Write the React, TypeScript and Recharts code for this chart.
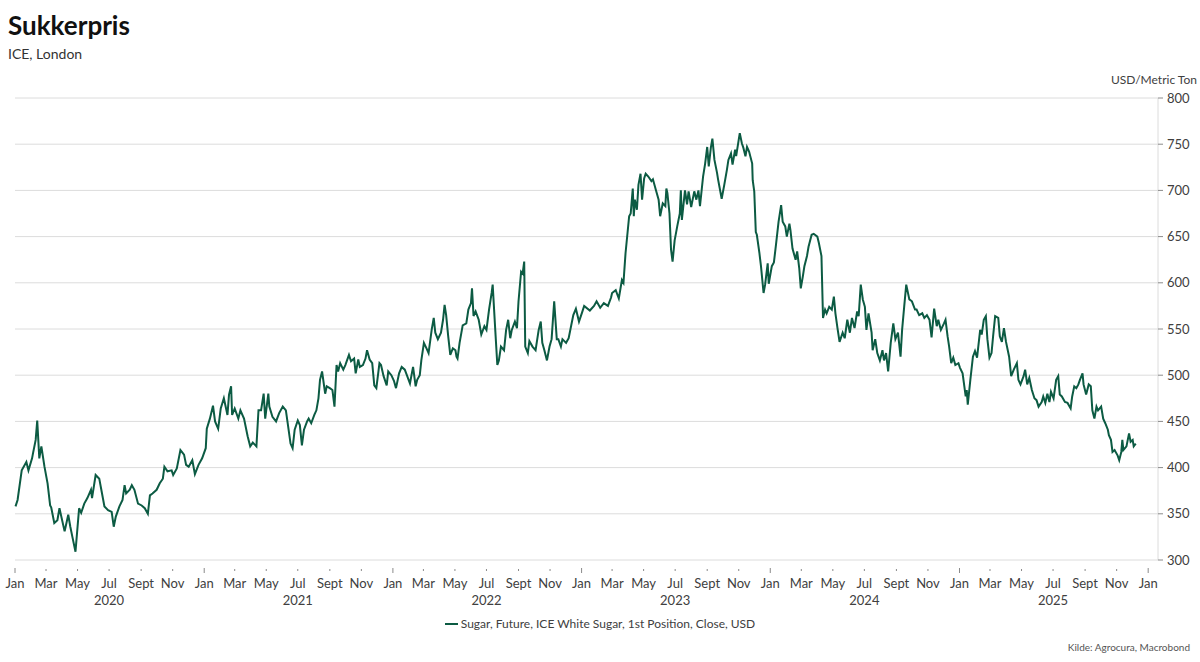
import { CartesianGrid, Line, LineChart, XAxis, YAxis } from "recharts";

const GREEN = "#0c5b43";
const AXIS_TEXT = "#404040";
const FONT = "Lato, 'Open Sans', sans-serif";

const YEARS = [2020, 2021, 2022, 2023, 2024, 2025];
const MONTH_TICKS = [0, 2, 4, 6, 8, 10];
const MONTH_LABELS = ["Jan", "Mar", "May", "Jul", "Sept", "Nov"];
const Y_TICKS = [300, 350, 400, 450, 500, 550, 600, 650, 700, 750, 800];

// USD per metric ton
const sugar2020: [string, number][] = [
  ["2020-01-02", 358], ["2020-01-06", 365], ["2020-01-14", 397], ["2020-01-23", 406], ["2020-01-27", 397],
  ["2020-02-03", 410], ["2020-02-05", 416], ["2020-02-10", 430], ["2020-02-13", 451], ["2020-02-17", 410],
  ["2020-02-21", 423], ["2020-02-27", 401], ["2020-03-04", 383], ["2020-03-09", 359], ["2020-03-11", 357],
  ["2020-03-17", 340], ["2020-03-23", 343], ["2020-03-27", 356], ["2020-04-06", 331], ["2020-04-13", 349],
  ["2020-04-17", 336], ["2020-04-21", 325], ["2020-04-27", 309], ["2020-05-04", 356], ["2020-05-08", 351],
  ["2020-05-14", 361], ["2020-05-20", 367], ["2020-05-27", 376], ["2020-05-29", 367], ["2020-06-05", 392],
  ["2020-06-12", 388], ["2020-06-15", 379], ["2020-06-22", 358], ["2020-06-29", 354], ["2020-07-06", 352],
  ["2020-07-10", 336], ["2020-07-14", 347], ["2020-07-21", 358], ["2020-07-27", 365], ["2020-07-31", 381],
  ["2020-08-03", 372], ["2020-08-10", 376], ["2020-08-14", 381], ["2020-08-19", 376], ["2020-08-26", 361],
  ["2020-09-02", 359], ["2020-09-08", 356], ["2020-09-14", 350], ["2020-09-18", 370], ["2020-09-23", 372],
  ["2020-10-01", 376], ["2020-10-07", 383], ["2020-10-13", 388], ["2020-10-16", 401], ["2020-10-22", 396],
  ["2020-10-30", 397], ["2020-11-02", 392], ["2020-11-09", 399], ["2020-11-16", 419], ["2020-11-23", 414],
  ["2020-11-27", 403], ["2020-12-02", 401], ["2020-12-09", 408], ["2020-12-14", 393], ["2020-12-21", 403],
  ["2020-12-28", 410],
];

const sugar2021: [string, number][] = [
  ["2021-01-04", 421], ["2021-01-06", 442], ["2021-01-12", 453], ["2021-01-18", 467], ["2021-01-22", 450],
  ["2021-01-28", 442], ["2021-02-02", 464], ["2021-02-08", 475], ["2021-02-15", 457], ["2021-02-18", 479],
  ["2021-02-22", 488], ["2021-02-24", 457], ["2021-03-01", 464], ["2021-03-08", 453], ["2021-03-12", 462],
  ["2021-03-19", 453], ["2021-03-26", 434], ["2021-03-31", 423], ["2021-04-05", 427], ["2021-04-12", 423],
  ["2021-04-16", 462], ["2021-04-21", 462], ["2021-04-26", 480], ["2021-04-29", 453], ["2021-05-05", 480],
  ["2021-05-07", 466], ["2021-05-13", 455], ["2021-05-20", 450], ["2021-05-26", 459], ["2021-06-02", 466],
  ["2021-06-08", 462], ["2021-06-11", 450], ["2021-06-17", 426], ["2021-06-21", 421], ["2021-06-25", 441],
  ["2021-07-01", 451], ["2021-07-05", 446], ["2021-07-09", 424], ["2021-07-13", 441], ["2021-07-19", 450],
  ["2021-07-22", 453], ["2021-07-27", 448], ["2021-08-02", 457], ["2021-08-06", 462], ["2021-08-10", 475],
  ["2021-08-13", 495], ["2021-08-17", 504], ["2021-08-23", 480], ["2021-08-26", 488], ["2021-09-01", 486],
  ["2021-09-06", 484], ["2021-09-10", 466], ["2021-09-14", 511], ["2021-09-17", 504], ["2021-09-21", 513],
  ["2021-09-27", 506], ["2021-10-01", 511], ["2021-10-08", 522], ["2021-10-12", 515], ["2021-10-18", 518],
  ["2021-10-21", 502], ["2021-10-26", 517], ["2021-10-29", 509], ["2021-11-04", 511], ["2021-11-09", 518],
  ["2021-11-12", 527], ["2021-11-17", 517], ["2021-11-22", 513], ["2021-11-26", 489], ["2021-11-30", 486],
  ["2021-12-06", 513], ["2021-12-09", 511], ["2021-12-14", 499], ["2021-12-20", 489], ["2021-12-23", 504],
  ["2021-12-29", 500],
];

const sugar2022: [string, number][] = [
  ["2022-01-03", 494], ["2022-01-07", 486], ["2022-01-13", 502], ["2022-01-18", 509], ["2022-01-24", 506],
  ["2022-01-28", 500], ["2022-02-03", 491], ["2022-02-09", 509], ["2022-02-14", 488], ["2022-02-17", 495],
  ["2022-02-22", 500], ["2022-02-25", 516], ["2022-03-02", 535], ["2022-03-07", 529], ["2022-03-11", 524],
  ["2022-03-17", 549], ["2022-03-21", 562], ["2022-03-24", 546], ["2022-03-29", 539], ["2022-04-04", 546],
  ["2022-04-08", 560], ["2022-04-11", 576], ["2022-04-14", 565], ["2022-04-18", 542], ["2022-04-22", 522],
  ["2022-04-27", 529], ["2022-05-02", 527], ["2022-05-04", 520], ["2022-05-06", 518], ["2022-05-10", 535],
  ["2022-05-16", 554], ["2022-05-23", 556], ["2022-05-27", 571], ["2022-06-01", 578], ["2022-06-03", 594],
  ["2022-06-06", 564], ["2022-06-10", 569], ["2022-06-16", 560], ["2022-06-21", 544], ["2022-06-27", 553],
  ["2022-07-01", 549], ["2022-07-06", 571], ["2022-07-11", 589], ["2022-07-13", 598], ["2022-07-18", 549],
  ["2022-07-22", 511], ["2022-07-25", 516], ["2022-07-29", 531], ["2022-08-04", 527], ["2022-08-08", 549],
  ["2022-08-12", 560], ["2022-08-16", 540], ["2022-08-19", 549], ["2022-08-25", 558], ["2022-08-29", 551],
  ["2022-09-01", 580], ["2022-09-06", 612], ["2022-09-09", 610], ["2022-09-12", 623], ["2022-09-14", 531],
  ["2022-09-19", 524], ["2022-09-22", 537], ["2022-09-28", 531], ["2022-10-04", 527], ["2022-10-10", 549],
  ["2022-10-14", 558], ["2022-10-17", 535], ["2022-10-21", 527], ["2022-10-26", 516], ["2022-10-31", 531],
  ["2022-11-04", 539], ["2022-11-09", 580], ["2022-11-14", 539], ["2022-11-17", 539], ["2022-11-22", 531],
  ["2022-11-25", 539], ["2022-12-02", 535], ["2022-12-07", 540], ["2022-12-12", 554], ["2022-12-16", 565],
  ["2022-12-21", 572], ["2022-12-27", 558],
];

const sugar2023: [string, number][] = [
  ["2023-01-02", 568], ["2023-01-06", 575], ["2023-01-17", 570], ["2023-01-25", 575], ["2023-01-30", 580],
  ["2023-02-06", 573], ["2023-02-13", 578], ["2023-02-21", 575], ["2023-02-27", 584], ["2023-03-01", 589],
  ["2023-03-08", 592], ["2023-03-14", 583], ["2023-03-20", 603], ["2023-03-23", 600], ["2023-03-27", 632],
  ["2023-04-03", 672], ["2023-04-06", 675], ["2023-04-10", 702], ["2023-04-12", 672], ["2023-04-14", 690],
  ["2023-04-18", 679], ["2023-04-21", 706], ["2023-04-25", 718], ["2023-04-28", 690], ["2023-05-02", 713],
  ["2023-05-05", 718], ["2023-05-10", 715], ["2023-05-16", 710], ["2023-05-19", 712], ["2023-05-25", 700],
  ["2023-05-30", 690], ["2023-06-02", 672], ["2023-06-07", 686], ["2023-06-12", 683], ["2023-06-14", 702],
  ["2023-06-16", 697], ["2023-06-20", 675], ["2023-06-23", 636], ["2023-06-26", 623], ["2023-06-30", 646],
  ["2023-07-05", 661], ["2023-07-10", 675], ["2023-07-12", 700], ["2023-07-14", 668], ["2023-07-20", 700],
  ["2023-07-24", 685], ["2023-07-27", 699], ["2023-08-01", 682], ["2023-08-07", 699], ["2023-08-11", 690],
  ["2023-08-15", 700], ["2023-08-18", 683], ["2023-08-24", 715], ["2023-08-28", 729], ["2023-09-01", 747],
  ["2023-09-04", 726], ["2023-09-08", 746], ["2023-09-11", 756], ["2023-09-15", 733], ["2023-09-20", 719],
  ["2023-09-22", 712], ["2023-09-29", 691], ["2023-10-04", 706], ["2023-10-09", 722], ["2023-10-12", 733],
  ["2023-10-17", 740], ["2023-10-20", 728], ["2023-10-25", 744], ["2023-10-27", 737], ["2023-11-01", 755],
  ["2023-11-03", 762], ["2023-11-07", 751], ["2023-11-10", 746], ["2023-11-14", 737], ["2023-11-17", 747],
  ["2023-11-21", 742], ["2023-11-27", 729], ["2023-11-28", 711], ["2023-12-01", 699], ["2023-12-04", 655],
  ["2023-12-06", 652], ["2023-12-11", 632], ["2023-12-14", 618], ["2023-12-19", 589], ["2023-12-22", 598],
  ["2023-12-27", 621], ["2023-12-29", 599],
];

const sugar2024: [string, number][] = [
  ["2024-01-04", 618], ["2024-01-08", 622], ["2024-01-12", 641], ["2024-01-17", 666], ["2024-01-22", 684],
  ["2024-01-25", 666], ["2024-01-30", 661], ["2024-02-02", 650], ["2024-02-07", 664], ["2024-02-09", 657],
  ["2024-02-13", 637], ["2024-02-19", 625], ["2024-02-22", 634], ["2024-02-26", 616], ["2024-02-29", 594],
  ["2024-03-04", 607], ["2024-03-07", 618], ["2024-03-12", 629], ["2024-03-15", 639], ["2024-03-21", 652],
  ["2024-03-25", 653], ["2024-04-01", 650], ["2024-04-04", 643], ["2024-04-09", 629], ["2024-04-12", 562],
  ["2024-04-16", 571], ["2024-04-19", 567], ["2024-04-24", 574], ["2024-04-29", 571], ["2024-05-03", 585],
  ["2024-05-06", 567], ["2024-05-10", 551], ["2024-05-14", 536], ["2024-05-20", 546], ["2024-05-24", 540],
  ["2024-05-29", 560], ["2024-06-03", 546], ["2024-06-07", 562], ["2024-06-12", 551], ["2024-06-17", 569],
  ["2024-06-20", 564], ["2024-06-24", 598], ["2024-06-28", 582], ["2024-07-02", 574], ["2024-07-05", 549],
  ["2024-07-09", 567], ["2024-07-15", 546], ["2024-07-17", 527], ["2024-07-22", 539], ["2024-07-26", 524],
  ["2024-07-31", 516], ["2024-08-05", 527], ["2024-08-08", 516], ["2024-08-12", 524], ["2024-08-16", 504],
  ["2024-08-21", 535], ["2024-08-26", 556], ["2024-08-30", 539], ["2024-09-04", 546], ["2024-09-09", 520],
  ["2024-09-12", 549], ["2024-09-16", 574], ["2024-09-20", 598], ["2024-09-26", 582], ["2024-10-01", 580],
  ["2024-10-07", 571], ["2024-10-10", 571], ["2024-10-15", 565], ["2024-10-21", 567], ["2024-10-25", 562],
  ["2024-10-30", 565], ["2024-11-04", 560], ["2024-11-08", 541], ["2024-11-13", 572], ["2024-11-18", 553],
  ["2024-11-21", 560], ["2024-11-26", 549], ["2024-12-02", 556], ["2024-12-05", 560], ["2024-12-09", 542],
  ["2024-12-12", 531], ["2024-12-16", 513], ["2024-12-20", 519], ["2024-12-24", 511], ["2024-12-30", 513],
];

const sugar2025: [string, number][] = [
  ["2025-01-02", 508], ["2025-01-07", 502], ["2025-01-13", 477], ["2025-01-15", 484], ["2025-01-17", 468],
  ["2025-01-22", 495], ["2025-01-27", 520], ["2025-01-31", 526], ["2025-02-04", 519], ["2025-02-10", 549],
  ["2025-02-13", 544], ["2025-02-17", 560], ["2025-02-21", 564], ["2025-02-24", 539], ["2025-02-28", 519],
  ["2025-03-04", 524], ["2025-03-07", 542], ["2025-03-11", 564], ["2025-03-17", 562], ["2025-03-20", 542],
  ["2025-03-24", 536], ["2025-03-28", 551], ["2025-04-01", 536], ["2025-04-07", 520], ["2025-04-11", 499],
  ["2025-04-16", 506], ["2025-04-22", 513], ["2025-04-25", 495], ["2025-04-29", 490], ["2025-05-05", 499],
  ["2025-05-08", 506], ["2025-05-12", 490], ["2025-05-16", 497], ["2025-05-21", 484], ["2025-05-26", 475],
  ["2025-05-30", 473], ["2025-06-03", 466], ["2025-06-09", 471], ["2025-06-12", 477], ["2025-06-16", 470],
  ["2025-06-20", 480], ["2025-06-24", 471], ["2025-06-27", 482], ["2025-07-02", 475], ["2025-07-07", 495],
  ["2025-07-11", 499], ["2025-07-14", 479], ["2025-07-18", 477], ["2025-07-24", 471], ["2025-07-29", 470],
  ["2025-08-04", 464], ["2025-08-07", 477], ["2025-08-11", 488], ["2025-08-15", 486], ["2025-08-19", 490],
  ["2025-08-22", 495], ["2025-08-27", 502], ["2025-08-29", 490], ["2025-09-03", 479], ["2025-09-08", 490],
  ["2025-09-12", 488], ["2025-09-15", 462], ["2025-09-19", 453], ["2025-09-23", 466], ["2025-09-26", 462],
  ["2025-10-02", 466], ["2025-10-06", 453], ["2025-10-10", 448], ["2025-10-15", 441], ["2025-10-17", 435],
  ["2025-10-21", 430], ["2025-10-24", 417], ["2025-10-28", 419], ["2025-11-03", 413], ["2025-11-06", 408],
  ["2025-11-10", 417], ["2025-11-12", 430], ["2025-11-14", 419], ["2025-11-20", 423], ["2025-11-25", 437],
  ["2025-11-28", 428], ["2025-12-02", 430], ["2025-12-04", 423], ["2025-12-08", 426],
];

const data = [...sugar2020, ...sugar2021, ...sugar2022, ...sugar2023, ...sugar2024, ...sugar2025].map(
  ([date, price]) => ({ t: Date.parse(date), price })
);

const xTicks = [
  ...YEARS.flatMap((year) => MONTH_TICKS.map((m) => Date.UTC(year, m, 1))),
  Date.UTC(2026, 0, 1),
];

function MonthTick({ x, y, payload }: { x?: number; y?: number; payload?: { value: number } }) {
  if (x == null || y == null || !payload) return null;
  const d = new Date(payload.value);
  const month = d.getUTCMonth();
  const isJan = month === 0;
  return (
    <g>
      <line
        x1={x}
        x2={x}
        y1={y + (isJan ? 8 : 9)}
        y2={y + (isJan ? 13 : 11)}
        stroke="#8a8a8a"
        strokeWidth={1}
      />
      <text x={x} y={y + 28} textAnchor="middle" fill={AXIS_TEXT} fontSize={13} fontFamily={FONT}>
        {MONTH_LABELS[MONTH_TICKS.indexOf(month)]}
      </text>
      {month === 6 && (
        <text x={x} y={y + 45} textAnchor="middle" fill={AXIS_TEXT} fontSize={13} fontFamily={FONT}>
          {d.getUTCFullYear()}
        </text>
      )}
    </g>
  );
}

export default function App() {
  return (
    <div
      style={{
        position: "absolute",
        left: 0,
        top: 0,
        width: 1200,
        height: 662,
        background: "#fff",
        fontFamily: FONT,
      }}
    >
      <div style={{ position: "absolute", left: 8, top: 8, fontSize: 26, fontWeight: 700, color: "#111", lineHeight: "34px" }}>
        Sukkerpris
      </div>
      <div style={{ position: "absolute", left: 8, top: 45, fontSize: 14, color: "#333", lineHeight: "18px" }}>
        ICE, London
      </div>
      <div style={{ position: "absolute", right: 3, top: 72, fontSize: 12, color: AXIS_TEXT, lineHeight: "16px" }}>
        USD/Metric Ton
      </div>

      <LineChart
        width={1200}
        height={662}
        data={data}
        margin={{ top: 98, right: 0, left: 15, bottom: 0 }}
      >
        <CartesianGrid vertical={false} stroke="#dcdcdc" />
        <XAxis
          dataKey="t"
          type="number"
          scale="time"
          domain={[Date.UTC(2020, 0, 1), Date.UTC(2026, 0, 20)]}
          ticks={xTicks}
          tick={<MonthTick />}
          tickSize={0}
          tickMargin={0}
          axisLine={false}
          tickLine={false}
          height={102}
          interval={0}
        />
        <YAxis
          orientation="right"
          domain={[300, 800]}
          ticks={Y_TICKS}
          width={42}
          tickSize={5}
          tickMargin={4}
          axisLine={{ stroke: "#dcdcdc" }}
          tickLine={{ stroke: "#8a8a8a" }}
          tick={{ fill: AXIS_TEXT, fontSize: 13, fontFamily: FONT }}
          interval={0}
        />
        <Line
          type="linear"
          dataKey="price"
          stroke={GREEN}
          strokeWidth={2}
          dot={false}
          isAnimationActive={false}
        />
      </LineChart>

      <div
        style={{
          position: "absolute",
          left: 0,
          width: 1200,
          top: 616,
          display: "flex",
          justifyContent: "center",
          alignItems: "center",
          fontSize: 12,
          color: AXIS_TEXT,
          lineHeight: "16px",
        }}
      >
        <span style={{ display: "inline-block", width: 13, height: 2, background: GREEN, marginRight: 3 }} />
        Sugar, Future, ICE White Sugar, 1st Position, Close, USD
      </div>
      <div style={{ position: "absolute", right: 10, top: 640, fontSize: 10, color: "#555", lineHeight: "14px" }}>
        Kilde: Agrocura, Macrobond
      </div>
    </div>
  );
}
